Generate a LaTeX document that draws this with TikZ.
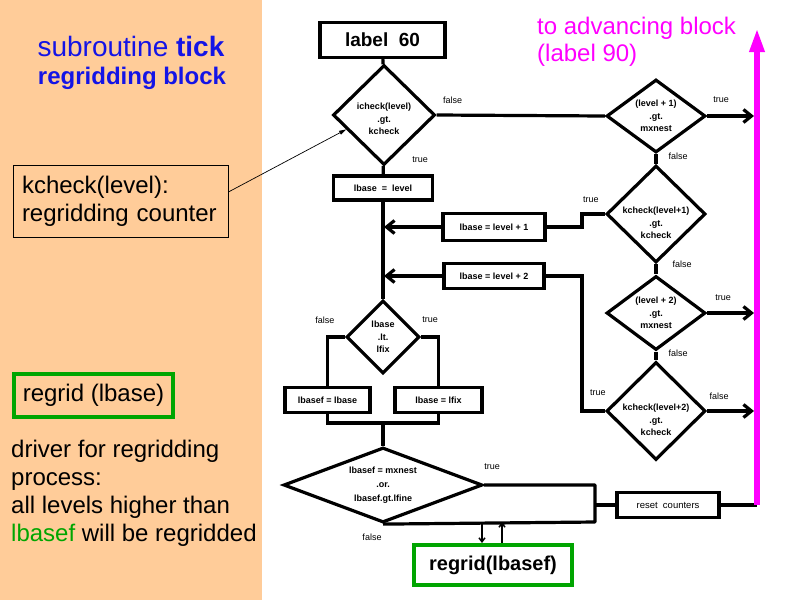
\documentclass[tikz,border=0pt]{standalone}
\usepackage{fontspec}
\setmainfont{Liberation Sans}
\usetikzlibrary{calc}
\usetikzlibrary{positioning}
\usetikzlibrary{arrows.meta}
\usetikzlibrary{shapes.geometric}

\definecolor{peach}{RGB}{255,204,153}
\definecolor{tickblue}{RGB}{20,20,230}
\definecolor{regreen}{RGB}{0,165,0}
\definecolor{advmag}{RGB}{255,0,255}

\begin{document}
\begin{tikzpicture}[x=1pt,y=-1pt,
  flow/.style={line width=3.2pt},
  arr/.style={flow,-{Straight Barb[length=8pt,width=13pt]},shorten >=1pt},
  box/.style={draw,line width=3.2pt,inner sep=0pt,font=\fontsize{9}{11}\selectfont\bfseries},
  dia/.style={draw,diamond,line width=3.2pt,inner sep=0pt},
  dtext/.style={align=center,font=\fontsize{9}{12.5}\selectfont\bfseries},
  lbl/.style={font=\fontsize{9}{11}\selectfont},
  note/.style={font=\fontsize{24}{28}\selectfont,align=left}]
\fill[peach] (0,0) rectangle (262,600);
\useasboundingbox (0,0) rectangle (800,600);

% left column
\node[font=\fontsize{28}{30}\selectfont,text=tickblue] (ttl) at (131,46) {subroutine \textbf{tick}};
\node[font=\fontsize{24}{26}\selectfont\bfseries,text=tickblue] (sub) at (132,78) {regridding block};
\node[draw,line width=0.8pt,note,text width=197pt,inner sep=9pt,minimum height=72] (kc) at (120.5,201) {kcheck(level):\\regridding counter};
\node[draw=regreen,line width=4pt,minimum width=159,minimum height=43,font=\fontsize{24}{26}\selectfont] (rl) at (93.5,395.5) {regrid (lbase)};
\node[note,anchor=north west,inner sep=0pt] (drv) at (11,440) {driver for regridding\\process:\\all levels higher than\\\textcolor{regreen}{lbasef} will be regridded};

% flow chart
\node[box,minimum width=125,minimum height=35,font=\fontsize{19}{21}\selectfont\bfseries] (l60) at (382.5,40) {label\ \ 60};
\node[dia,minimum width=102,minimum height=100] (c1) at (384,115) {};
\node[dtext,yshift=-4pt] at (c1) {icheck(level)\\.gt.\\kcheck};
\node[box,minimum width=99,minimum height=24] (b0) at (383,188) {lbase\ \ =\ \ level};
\node[box,minimum width=102,minimum height=27] (b1) at (494,227) {lbase = level + 1};
\node[box,minimum width=100,minimum height=25] (b2) at (494,276) {lbase = level + 2};
\node[dia,minimum width=99,minimum height=73] (d2) at (656,116) {};
\node[dtext] at (d2) {(level + 1)\\.gt.\\mxnest};
\node[dia,minimum width=99,minimum height=97] (d3) at (656,214) {};
\node[dtext,yshift=-9pt] at (d3) {kcheck(level+1)\\.gt.\\kcheck};
\node[dia,minimum width=99,minimum height=74] (d4) at (656,313) {};
\node[dtext] at (d4) {(level + 2)\\.gt.\\mxnest};
\node[dia,minimum width=99,minimum height=98] (d5) at (656,411) {};
\node[dtext,yshift=-9pt] at (d5) {kcheck(level+2)\\.gt.\\kcheck};
\node[dia,minimum width=73,minimum height=73] (c2) at (383,337) {};
\node[dtext] at (c2) {lbase\\.lt.\\lfix};
\node[box,minimum width=85,minimum height=25] (b3) at (327.5,400) {lbasef = lbase};
\node[box,minimum width=87,minimum height=25] (b4) at (438.5,400) {lbase = lfix};
\node[dia,minimum width=199,minimum height=75] (c3) at (383,485) {};
\node[dtext,font=\fontsize{9}{14}\selectfont\bfseries] at (c3) {lbasef = mxnest\\.or.\\lbasef.gt.lfine};
\node[box,minimum width=102,minimum height=25,font=\fontsize{9.5}{11}\selectfont] (rc) at (668,505) {reset\ \ counters};
\node[box,draw=regreen,line width=4pt,minimum width=158,minimum height=40,font=\fontsize{20}{22}\selectfont\bfseries] (rg) at (493,565) {regrid(lbasef)};
\node[anchor=north west,inner sep=0pt,text=advmag,align=left,font=\fontsize{24}{27}\selectfont] (adv) at (537,17) {to advancing block\\(label 90)};

\coordinate (mb) at (757,505);
\coordinate (mt) at (757,28);
\coordinate (kx) at (582,0);
\coordinate (j) at (383,423);
\coordinate (cr) at (595,522);

\draw[flow] (l60) -- (c1);
\draw[flow] (c1.east) -- (d2.west);
\draw[flow] (c1) -- (b0);
\draw[flow] (b0) -- (c2);
\draw[arr] (b1.west) -- (b1.west -| b0.south);
\draw[arr] (b2.west) -- (b2.west -| b0.south);
\draw[arr,shorten >=3pt] (d2.east) -- (d2.east -| mb);
\draw[flow] (d2) -- (d3);
\draw[flow] (d3.west) -- (d3.west -| kx) |- (b1.east);
\draw[flow] (d3) -- (d4);
\draw[arr,shorten >=3pt] (d4.east) -- (d4.east -| mb);
\draw[flow] (d4) -- (d5);
\draw[flow] (d5.west) -- (d5.west -| kx) |- (b2.east);
\draw[arr,shorten >=3pt] (d5.east) -- (d5.east -| mb);
\draw[flow] (c2.west) -| (b3.north);
\draw[flow] (c2.east) -| (b4.north);
\draw[flow] (b3.south) -- (b3.south |- j) -- (b4.south |- j) -- (b4.south);
\draw[flow] (j) -- (c3);
\draw[flow,line join=round] (c3.east) -| (cr) -- (c3.south);
\draw[flow] (rc.west -| cr) -- (rc.west);
\draw[flow] (rc.east) -- (mb);
\draw[line width=1.5pt,-{Straight Barb[length=4pt,width=6pt]}] ([xshift=-11pt]rg.north |- cr) -- ([xshift=-11pt]rg.north);
\draw[line width=1.5pt,-{Straight Barb[length=4pt,width=6pt]}] ([xshift=9pt]rg.north) -- ([xshift=9pt]rg.north |- cr);
\draw[line width=6pt,advmag,-{Triangle[length=24pt,width=14pt]}] (mb) -- (mt);
\draw[line width=0.7pt,-{Triangle[length=7pt,width=4pt]}] ([yshift=9pt]kc.east) -- ($(c1.west)!0.28!(c1.south)$);

% true / false
\node[lbl] at ([xshift=16pt,yshift=15pt]c1.east) {false};
\node[lbl] at ([xshift=36pt,yshift=7pt]c1.south) {true};
\node[lbl] at ([xshift=14pt,yshift=16pt]d2.east) {true};
\node[lbl] at ([xshift=22pt,yshift=-2pt]d2.south) {false};
\node[lbl] at ([xshift=-14pt,yshift=14pt]d3.west) {true};
\node[lbl] at ([xshift=26pt,yshift=0pt]d3.south) {false};
\node[lbl] at ([xshift=16pt,yshift=15pt]d4.east) {true};
\node[lbl] at ([xshift=22pt,yshift=-2pt]d4.south) {false};
\node[lbl] at ([xshift=-7pt,yshift=18pt]d5.west) {true};
\node[lbl] at ([xshift=12pt,yshift=15pt]d5.east) {false};
\node[lbl] at ([xshift=-20pt,yshift=17pt]c2.west) {false};
\node[lbl] at ([xshift=9pt,yshift=17pt]c2.east) {true};
\node[lbl] at ([xshift=8pt,yshift=18pt]c3.east) {true};
\node[lbl] at ([xshift=-11pt,yshift=-13pt]c3.south) {false};
\end{tikzpicture}
\end{document}
